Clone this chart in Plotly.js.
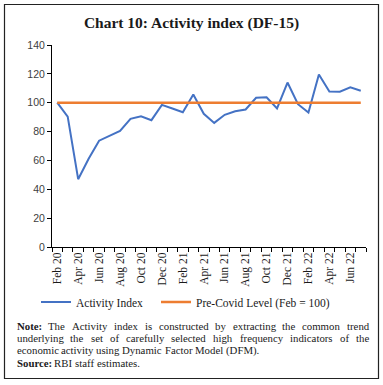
<!DOCTYPE html>
<html>
<head>
<meta charset="utf-8">
<script src="https://cdn.plot.ly/plotly-3.0.1.min.js"></script>
<style>
html,body{margin:0;padding:0;background:#fff;}
#chart{width:383px;height:385px;}
</style>
</head>
<body>
<div id="chart"></div>
<script>
// ---- data ----
const months = ["Feb 20","Mar 20","Apr 20","May 20","Jun 20","Jul 20","Aug 20","Sep 20","Oct 20","Nov 20","Dec 20","Jan 21",
  "Feb 21","Mar 21","Apr 21","May 21","Jun 21","Jul 21","Aug 21","Sep 21","Oct 21","Nov 21","Dec 21","Jan 22",
  "Feb 22","Mar 22","Apr 22","May 22","Jun 22","Jul 22"];
const activityIndex = [100, 90.4, 47, 61.2, 73.7, 77, 80.4, 88.8, 90.6, 87.9, 98.5, 96,
  93.4, 105.7, 92.3, 86, 91.6, 94.1, 95.3, 103.4, 103.8, 96, 114, 99,
  93.2, 119.6, 107.8, 107.6, 110.6, 108.3];
const preCovidLevel = months.map(() => 100);
const yTicks = [0, 20, 40, 60, 80, 100, 120, 140];
const seriesNames = ["Activity Index", "Pre-Covid Level (Feb = 100)"];
const titleText = "Chart 10: Activity index (DF-15)";
const noteLines = [
  [{t:"Note:", b:true}, "The Activity index is constructed by extracting the common trend"],
  ["underlying the set of carefully selected high frequency indicators of the"],
  ["economic activity using Dynamic Factor Model (DFM)."],
  [{t:"Source:", b:true}, "RBI staff estimates."]
];

// ---- layout geometry ----
const W = 383, H = 385;
const M = {l:52, r:17, t:45, b:138};
const PW = W - M.l - M.r, PH = H - M.t - M.b;
const px2x = px => (px - M.l) / PW;
const py2y = py => (H - M.b - py) / PH;

const idx = months.map((m, i) => i);
const serif = "Liberation Serif, DejaVu Serif, serif";
const sans = "Liberation Sans, Arial, sans-serif";

// justified note text as word annotations
const canvas = document.createElement("canvas");
const ctx = canvas.getContext("2d");
const noteSize = 10.8;
function measure(word, bold) {
  ctx.font = (bold ? "bold " : "") + noteSize + "px 'Liberation Serif'";
  return ctx.measureText(word).width;
}
const noteLeft = 15.5, noteRight = 368;
const lineY = [325.5, 337.5, 350, 363];
const justify = [true, true, false, false];
const annotations = [];
noteLines.forEach((parts, li) => {
  const words = [];
  parts.forEach(p => {
    if (typeof p === "string") p.split(" ").forEach(w => words.push({t:w, b:false}));
    else words.push(p);
  });
  const widths = words.map(w => measure(w.t, w.b));
  const total = widths.reduce((a, b) => a + b, 0);
  const spaceW = measure(" ", false);
  const gap = justify[li] ? (noteRight - noteLeft - total) / (words.length - 1) : spaceW;
  let x = noteLeft;
  words.forEach((w, i) => {
    annotations.push({
      text: w.b ? "<b>" + w.t + "</b>" : w.t,
      xref: "paper", yref: "paper",
      x: px2x(x), y: py2y(lineY[li]),
      xanchor: "left", yanchor: "middle",
      showarrow: false, borderpad: 0,
      font: {family: serif, size: noteSize, color: "#1a1a1a"}
    });
    x += widths[i] + gap;
  });
});

const traces = [
  {x: idx, y: activityIndex, type: "scatter", mode: "lines", name: seriesNames[0],
   line: {color: "#4472C4", width: 2}, legend: "legend"},
  {x: idx, y: preCovidLevel, type: "scatter", mode: "lines", name: seriesNames[1],
   line: {color: "#ED7D31", width: 2.5}, legend: "legend2"}
];

const boundaries = months.map((m, i) => i - 0.5).concat([months.length - 0.5]);
const labelIdx = idx.filter(i => i % 2 === 0);

const legendBase = {
  orientation: "h", xanchor: "left", yanchor: "middle",
  font: {family: serif, size: 11.5, color: "#1a1a1a"},
  itemwidth: 30, bgcolor: "rgba(0,0,0,0)", borderwidth: 0
};

const layout = {
  width: W, height: H,
  margin: M,
  paper_bgcolor: "#fff", plot_bgcolor: "#fff",
  showlegend: true,
  title: {text: "<b>" + titleText + "</b>", x: 0.5, xref: "container", xanchor: "center",
          y: 1 - 22.5 / H, yref: "container", yanchor: "middle",
          font: {family: serif, size: 15.5, color: "#1a1a1a"}},
  xaxis: {
    range: [-0.5, months.length - 0.5],
    tickmode: "array", tickvals: labelIdx, ticktext: labelIdx.map(i => months[i]),
    ticks: "", tickangle: -90,
    tickfont: {family: serif, size: 11.5, color: "#1a1a1a"},
    showline: true, linecolor: "#000", linewidth: 1,
    showgrid: false, zeroline: false,
    minor: {tickmode: "array", tickvals: boundaries, ticks: "outside", ticklen: 4, tickcolor: "#000", tickwidth: 1, showgrid: false}
  },
  yaxis: {
    range: [0, 140], tickmode: "array", tickvals: yTicks,
    ticks: "outside", ticklen: 4, tickcolor: "#000",
    tickfont: {family: sans, size: 10.5, color: "#404040"},
    showline: true, linecolor: "#000", linewidth: 1,
    showgrid: false, zeroline: false
  },
  legend: Object.assign({}, legendBase, {x: px2x(36), y: py2y(302)}),
  legend2: Object.assign({}, legendBase, {x: px2x(156), y: py2y(302)}),
  shapes: [{type: "rect", xref: "paper", yref: "paper",
            x0: px2x(4.5), x1: px2x(378.5), y0: py2y(378.5), y1: py2y(4.5),
            line: {color: "#222", width: 1.2}, fillcolor: "rgba(0,0,0,0)", layer: "below"}],
  annotations: annotations
};

Plotly.newPlot("chart", traces, layout, {displayModeBar: false, staticPlot: true});
</script>
</body>
</html>
